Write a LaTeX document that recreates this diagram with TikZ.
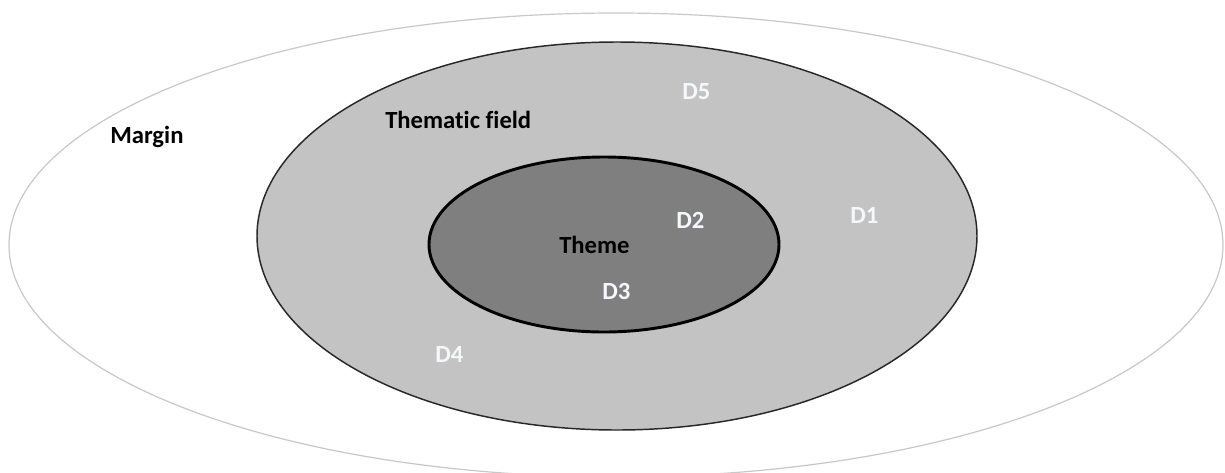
\documentclass[tikz,border=0pt]{standalone}
\usepackage{fontspec}
\setmainfont{Carlito}[Ligatures={NoCommon}]
\usetikzlibrary{shapes.geometric}
\definecolor{fieldgray}{RGB}{195,195,195}
\definecolor{themegray}{RGB}{127,127,127}
\definecolor{margingray}{RGB}{200,200,200}
\definecolor{fieldline}{RGB}{40,40,40}
\definecolor{dtext}{RGB}{245,247,250}
\tikzset{
  zone/.style={ellipse, inner sep=0pt, outer sep=0pt},
  lbl/.style={inner sep=0pt, anchor=base west, font=\bfseries\fontsize{18.5}{20}\selectfont},
  darklbl/.style={lbl, text=black},
  lightlbl/.style={lbl, text=dtext},
}
\begin{document}
\begin{tikzpicture}[x=0.75pt, y=-0.75pt]
  \clip (0,0) rectangle (1225,472);
  \fill[white] (0,0) rectangle (1225,472);

  % nested zones
  \node[zone, draw=margingray, line width=0.9pt, fill=white,
        minimum width=910.5pt, minimum height=348pt] (margin) at (616,245) {};
  \node[zone, draw=fieldline, line width=1.1pt, fill=fieldgray,
        minimum width=540pt, minimum height=291pt] (field) at (617,236) {};
  \node[zone, draw=black, line width=2.2pt, fill=themegray,
        minimum width=262.5pt, minimum height=131.25pt] (theme) at (604,244.5) {};

  % zone labels
  \node[darklbl] (marginlbl) at (110,143) {Margin};
  \node[darklbl] (fieldlbl) at (385,128) {Thematic field};
  \node[darklbl] (themelbl) at (559,253) {Theme};

  % data points
  \node[lightlbl] (d1) at (850,223) {D1};
  \node[lightlbl] (d2) at (676,228) {D2};
  \node[lightlbl] (d3) at (602,299) {D3};
  \node[lightlbl] (d4) at (435,362) {D4};
  \node[lightlbl] (d5) at (682,99) {D5};
\end{tikzpicture}
\end{document}
